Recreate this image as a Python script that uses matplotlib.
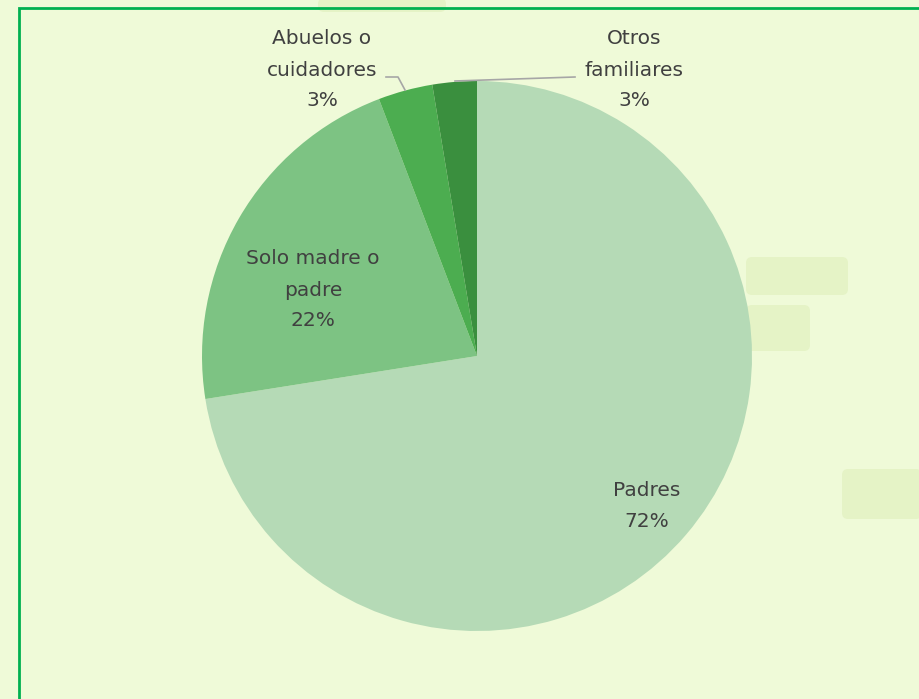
import matplotlib
matplotlib.use("Agg")
import matplotlib.pyplot as plt
from matplotlib.patches import FancyBboxPatch, Rectangle

# Data
labels = ["Padres", "Solo madre o\npadre", "Abuelos o\ncuidadores", "Otros\nfamiliares"]
values = [72.5, 21.7, 3.2, 2.6]
shown_pct = ["72%", "22%", "3%", "3%"]
colors = ["#b5dab6", "#7dc383", "#4cad50", "#3a8f3e"]

W, H = 919, 699
bg = "#effad8"

fig = plt.figure(figsize=(W / 100, H / 100), dpi=100, facecolor=bg)
ax = fig.add_axes([0, 0, 1, 1])

# faint decorative brush strokes in the background
for x0, y0, w, h in [(318, 687, 128, 14), (746, 404, 102, 38), (746, 348, 64, 46), (842, 180, 80, 50)]:
    ax.add_patch(FancyBboxPatch((x0, y0), w, h, boxstyle="round,pad=0,rounding_size=6",
                                fc="#e5f3c6", ec="none", zorder=0))

# border of the chart area (right/bottom run off the image)
ax.add_patch(Rectangle((18.5, -20), 1000, H - 7.5 + 20, fill=False, ec="#00b050", lw=2, zorder=1))

cx, cy, r = 477, H - 356, 275
wedges, _ = ax.pie(values, colors=colors, startangle=90, counterclock=False,
                   center=(cx, cy), radius=r, frame=True,
                   wedgeprops=dict(linewidth=0))
ax.set_xlim(0, W)
ax.set_ylim(0, H)
ax.set_aspect("equal")
ax.axis("off")

txt = dict(ha="center", va="center", fontsize=14.5, color="#404040", linespacing=1.8)
ax.text(647, H - 506, labels[0] + "\n" + shown_pct[0], **txt)
ax.text(313, H - 290, labels[1] + "\n" + shown_pct[1], **txt)
ax.text(322, H - 70, labels[2] + "\n" + shown_pct[2], **txt)
ax.text(634, H - 70, labels[3] + "\n" + shown_pct[3], **txt)

# leader lines
ax.plot([386, 398, 405], [H - 77, H - 77, H - 90], color="#a6a6a6", lw=1.2)
ax.plot([455, 575], [H - 81, H - 77], color="#a6a6a6", lw=1.2)

fig.savefig("out.png", dpi=100, facecolor=bg)
